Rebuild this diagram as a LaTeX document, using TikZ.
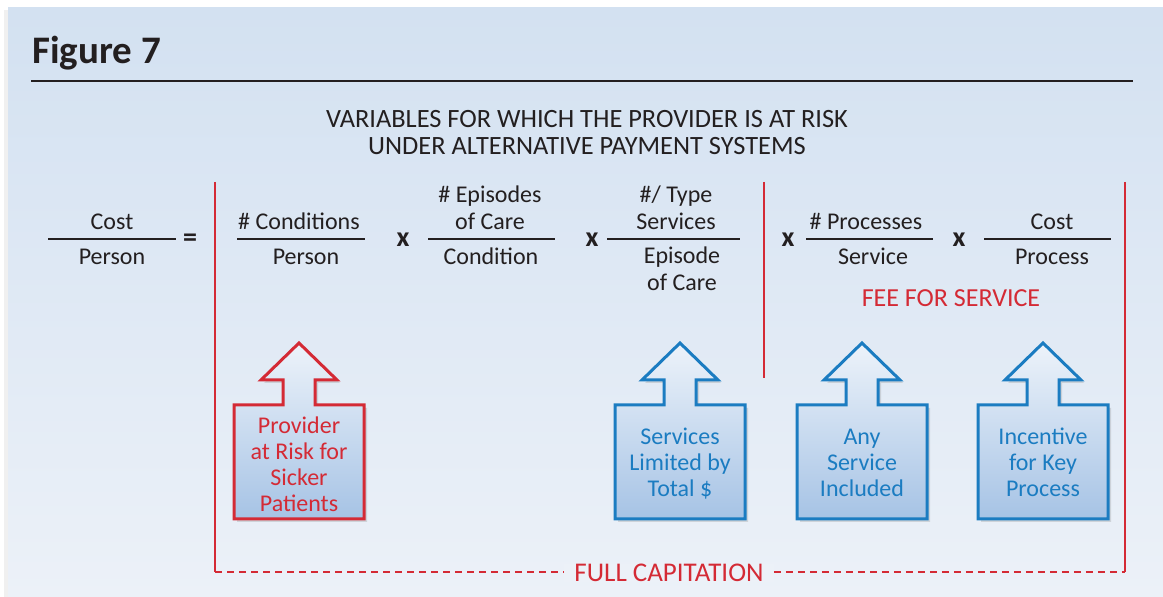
\documentclass[tikz,border=0pt]{standalone}
\usepackage{fontspec}
\setmainfont{Carlito}
\usetikzlibrary{shadows}

\definecolor{riskred}{HTML}{D42A35}
\definecolor{capblue}{HTML}{1B7CC1}
\definecolor{ink}{HTML}{231F20}
\definecolor{bgtop}{HTML}{D3E1F1}
\definecolor{bgbot}{HTML}{ECF1F8}
\definecolor{boxtop}{HTML}{EDF3FA}
\definecolor{boxbot}{HTML}{A6C3E5}

\tikzset{
  term/.style={font=\fontsize{12}{13.5}\selectfont, text=ink, align=center, inner sep=0pt, anchor=base},
  timessign/.style={font=\bfseries\fontsize{14}{14}\selectfont, text=ink, inner sep=0pt},
  fracline/.style={draw=ink, line width=0.7pt},
  riskline/.style={draw=riskred, line width=1.4pt},
  boxtext/.style={font=\fontsize{12}{13}\selectfont, align=center, inner sep=0pt, anchor=base},
}

% up-pointing arrow on a box; #1 centre x, #2 colour
\newcommand\upbox[2]{%
  \path[draw=#2, line width=1.5pt, top color=boxtop, bottom color=boxbot,
        drop shadow={opacity=0.25, shadow xshift=1.5pt, shadow yshift=-1.5pt}]
    (#1,343) -- ++(38,37) -- ++(-22,0) -- ++(0,25) -- ++(49,0) -- ++(0,114)
    -- ++(-130,0) -- ++(0,-114) -- ++(49,0) -- ++(0,-25) -- ++(-22,0) -- cycle;}

\begin{document}
\begin{tikzpicture}[x=0.5pt,y=-0.5pt]

  \useasboundingbox (0,0) rectangle (1163,597);
  \fill[white] (0,0) rectangle (1163,597);
  \fill[black!6] (4,10) rectangle (8,597);
  \shade[top color=bgtop, bottom color=bgbot] (8,8) rectangle (1163,597);

  % heading
  \node[font=\bfseries\fontsize{19.5}{21}\selectfont, text=ink, inner sep=0pt, anchor=base west] (fig) at (32,64) {Figure 7};
  \draw[fracline] (31,81) -- (1133,81);

  \node[term, font=\fontsize{13.2}{13.5}\selectfont] (title) at (587,155) {VARIABLES FOR WHICH THE PROVIDER IS AT RISK\\UNDER ALTERNATIVE PAYMENT SYSTEMS};

  % the terms (base = last line)
  \node[term] (costnum)  at (112,230) {Cost};
  \node[term] (costden)  at (112,265) {Person};
  \node[timessign] (eq)  at (190,240) {=};

  \node[term] (condnum)  at (299,230) {\# Conditions};
  \node[term] (condden)  at (306,265) {Person};
  \node[timessign] (x1)  at (403,240) {x};

  \node[term] (epinum)   at (490,230) {\# Episodes\\of Care};
  \node[term] (epiden)   at (491,265) {Condition};
  \node[timessign] (x2)  at (592,240) {x};

  \node[term] (servnum)  at (676,230) {\#/ Type\\Services};
  \node[term] (servden)  at (682,291) {Episode\\of Care};
  \node[timessign] (x3)  at (788,240) {x};

  \node[term] (procnum)  at (866,230) {\# Processes};
  \node[term] (procden)  at (873,265) {Service};
  \node[timessign] (x4)  at (959,240) {x};

  \node[term] (unitnum)  at (1052,230) {Cost};
  \node[term] (unitden)  at (1052,265) {Process};

  \draw[fracline] (48,239) -- (176,239);
  \draw[fracline] (237,239) -- (365,239);
  \draw[fracline] (428,239) -- (555,239);
  \draw[fracline] (607,239) -- (740,239);
  \draw[fracline] (806,239) -- (933,239);
  \draw[fracline] (984,239) -- (1111,239);

  % payment systems
  \node[term, text=riskred, font=\fontsize{13}{13}\selectfont] (ffs) at (951,307) {FEE FOR SERVICE};
  \node[term, text=riskred, font=\fontsize{13.5}{13}\selectfont, fill=bgbot, inner xsep=5pt, anchor=base] (cap) at (669,582) {FULL CAPITATION};

  \coordinate (capleft)  at (215,182);
  \coordinate (capright) at (1125,182);
  \coordinate (capbl)    at (215,572);
  \coordinate (capbr)    at (1125,572);
  \coordinate (ffstop)   at (764,182);
  \coordinate (ffsbot)   at (764,378);

  \draw[riskline] (capleft) -- (capbl);
  \draw[riskline] (capright) -- (capbr);
  \draw[riskline] (ffstop) -- (ffsbot);
  \draw[riskline, dash pattern=on 3.5pt off 2.5pt] (capbl) -- (capbl -| cap.west);
  \draw[riskline, dash pattern=on 3.5pt off 2.5pt] (capbr -| cap.east) -- (capbr);

  % arrows
  \upbox{299}{riskred}
  \upbox{680}{capblue}
  \upbox{862}{capblue}
  \upbox{1043}{capblue}

  \node[boxtext, text=riskred] (sicker)   at (299,512) {Provider\\at Risk for\\Sicker\\Patients};
  \node[boxtext, text=capblue] (limited)  at (680,497) {Services\\Limited by\\Total \$};
  \node[boxtext, text=capblue] (anyserv)  at (862,497) {Any\\Service\\Included};
  \node[boxtext, text=capblue] (incent)   at (1043,497) {Incentive\\for Key\\Process};

\end{tikzpicture}
\end{document}
